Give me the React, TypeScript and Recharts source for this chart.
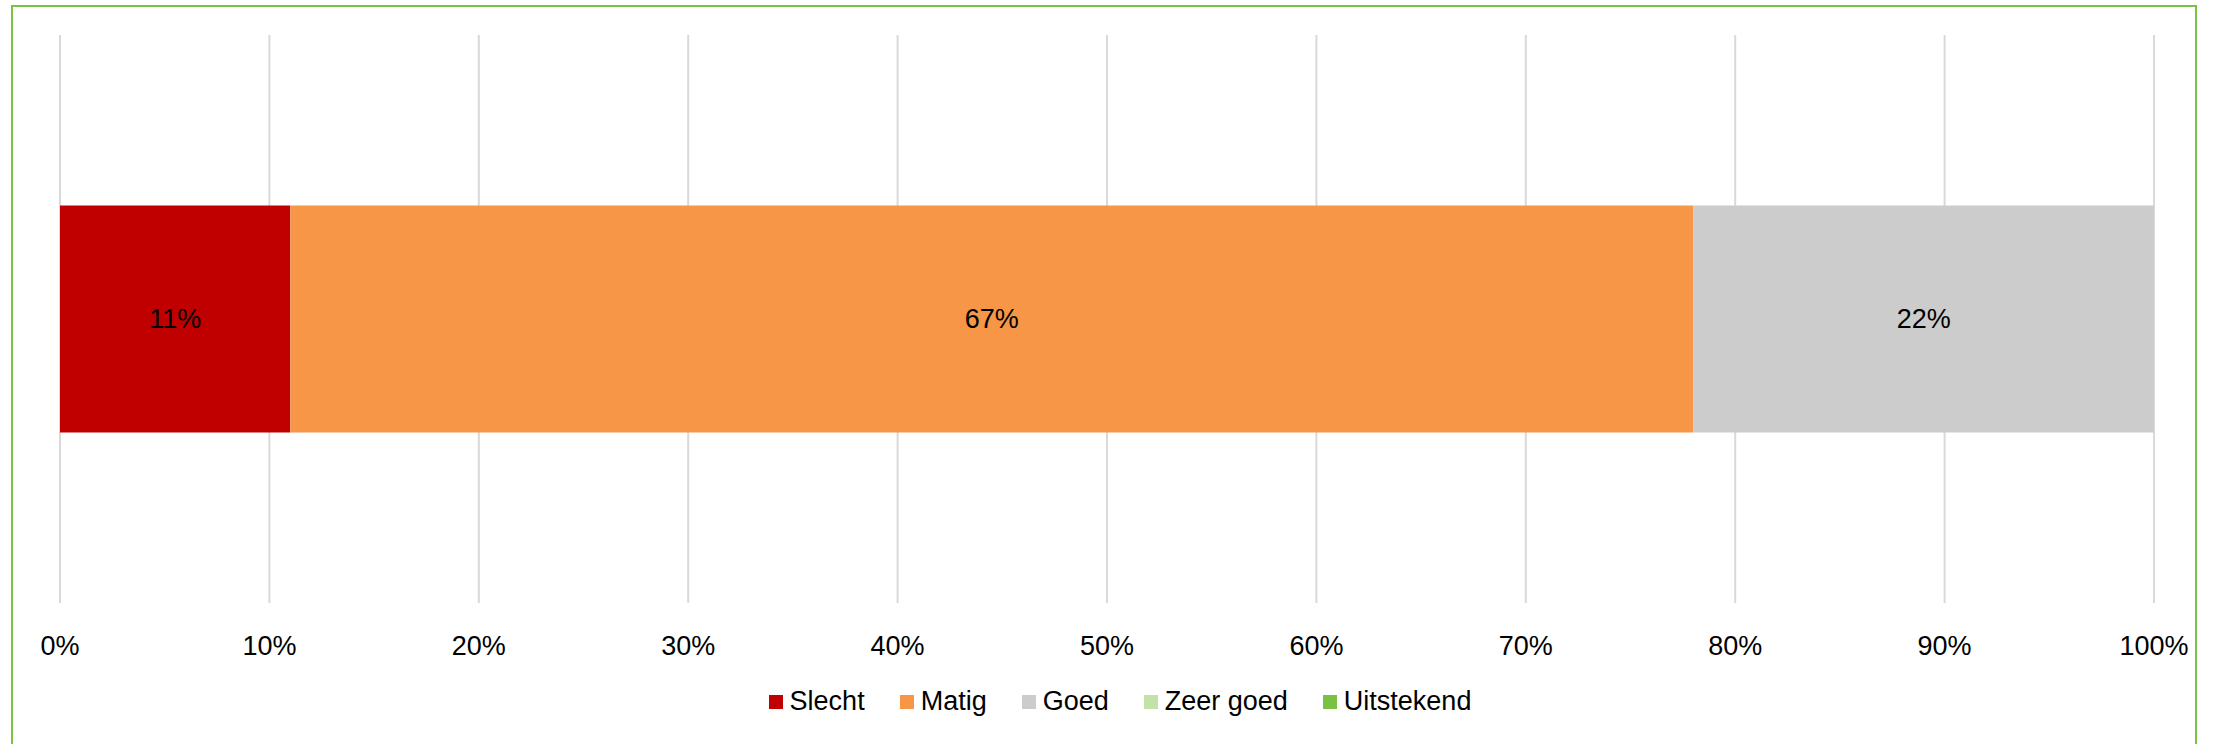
import React from "react";
import {
  BarChart,
  Bar,
  XAxis,
  YAxis,
  CartesianGrid,
  Legend,
  LabelList,
} from "recharts";

const categories = ["Slecht", "Matig", "Goed", "Zeer goed", "Uitstekend"];
const values = [11, 67, 22, 0, 0];
const colors = ["#C00000", "#F79646", "#CCCCCC", "#C3E2A8", "#7AC143"];
const xTicks = [0, 10, 20, 30, 40, 50, 60, 70, 80, 90, 100];

const row: Record<string, string | number> = { name: "score" };
categories.forEach((c, i) => {
  row[c] = values[i];
});
const data = [row];

const FONT = "'Liberation Sans', Arial, sans-serif";

type LegendItem = { value?: string; color?: string };

// keep the legend in series order (recharts sorts by name otherwise)
const LegendContent = ({ payload }: { payload?: LegendItem[] }) => {
  const items = [...(payload ?? [])].sort(
    (a, b) => categories.indexOf(a.value ?? "") - categories.indexOf(b.value ?? "")
  );
  return (
    <div
      style={{
        display: "flex",
        justifyContent: "center",
        alignItems: "center",
        fontFamily: FONT,
        fontSize: 27,
        color: "#000",
      }}
    >
      {items.map((p) => (
        <div
          key={p.value}
          style={{ display: "flex", alignItems: "center", marginRight: 35 }}
        >
          <span
            style={{
              width: 14,
              height: 14,
              background: p.color,
              display: "inline-block",
              marginRight: 7,
            }}
          />
          <span>{p.value}</span>
        </div>
      ))}
    </div>
  );
};

export default function App() {
  return (
    <div
      style={{
        position: "fixed",
        left: 0,
        top: 0,
        width: 2221,
        height: 744,
        background: "#fff",
        overflow: "hidden",
      }}
    >
      {/* green frame, bottom edge runs off the picture */}
      <div
        style={{
          position: "absolute",
          left: 11,
          top: 5,
          width: 2186,
          height: 800,
          border: "2px solid #7AC143",
          boxSizing: "border-box",
        }}
      />
      <div style={{ position: "absolute", left: 0, top: 0 }}>
        <BarChart
          width={2221}
          height={744}
          data={data}
          layout="vertical"
          margin={{ top: 35, right: 67, left: 60, bottom: 81 }}
          barCategoryGap="30%"
        >
          <CartesianGrid horizontal={false} stroke="#D9D9D9" strokeWidth={2} />
          <XAxis
            type="number"
            domain={[0, 100]}
            ticks={xTicks}
            interval={0}
            axisLine={false}
            tickLine={false}
            tickMargin={27}
            height={60}
            tickFormatter={(v: number) => `${v}%`}
            tick={{ fill: "#000", fontSize: 27, fontFamily: FONT }}
          />
          <YAxis type="category" dataKey="name" hide />
          <Legend
            verticalAlign="middle"
            align="center"
            layout="horizontal"
            wrapperStyle={{ top: 686, left: 27, width: 2221 }}
            content={<LegendContent />}
          />
          {categories.map((c, i) => (
            <Bar
              key={c}
              dataKey={c}
              name={c}
              stackId="a"
              fill={colors[i]}
              isAnimationActive={false}
            >
              <LabelList
                dataKey={c}
                position="center"
                formatter={(v: number) => (v ? `${v}%` : "")}
                style={{ fill: "#000", fontSize: 27, fontFamily: FONT }}
              />
            </Bar>
          ))}
        </BarChart>
      </div>
    </div>
  );
}
